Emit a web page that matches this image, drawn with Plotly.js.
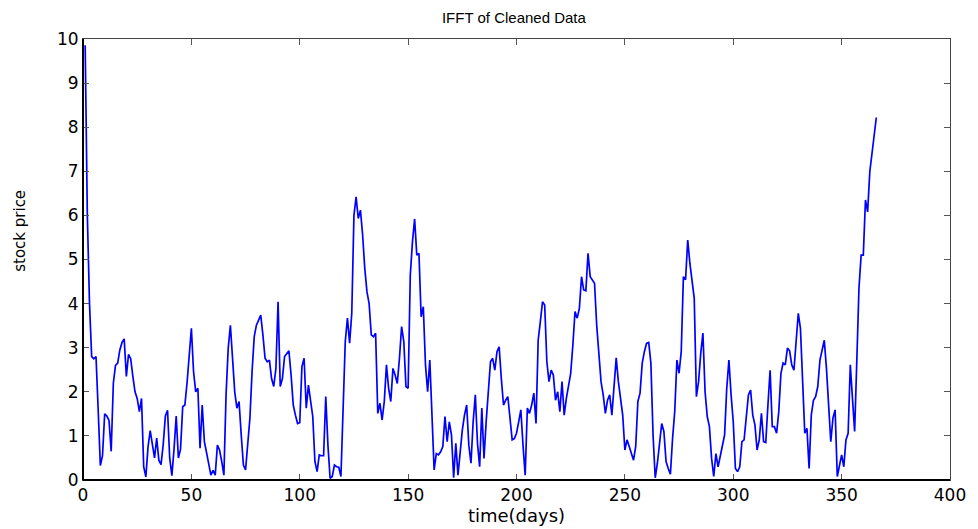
<!DOCTYPE html>
<html>
<head>
<meta charset="utf-8">
<script src="https://cdn.plot.ly/plotly-3.0.1.min.js"></script>
<style>
html,body{margin:0;padding:0;background:#fff;}
#chart{width:978px;height:529px;}
</style>
</head>
<body>
<div id="chart"></div>
<script>
// Stock price (IFFT of cleaned data), one value per day
const priceDays1to49 = [
  9.86, 6.0, 4.0, 2.8, 2.75, 2.8, 1.6, 0.33, 0.55, 1.5,
  1.45, 1.35, 0.65, 2.2, 2.6, 2.65, 2.95, 3.12, 3.2, 2.35,
  2.85, 2.75, 2.35, 2.0, 1.85, 1.55, 1.85, 0.3, 0.07, 0.75,
  1.12, 0.75, 0.5, 0.95, 0.45, 0.35, 0.8, 1.45, 1.58, 0.5,
  0.1, 0.7, 1.45, 0.5, 0.7, 1.66, 1.7, 2.2, 2.9
];
const priceDays50to99 = [
  3.44, 2.46, 2.0, 2.08, 0.72, 1.7, 0.87, 0.62, 0.34, 0.11,
  0.22, 0.11, 0.79, 0.68, 0.42, 0.11, 1.93, 2.99, 3.51, 2.83,
  2.0, 1.63, 1.78, 1.02, 0.34, 0.23, 0.79, 1.4, 2.46, 3.25,
  3.51, 3.63, 3.74, 3.29, 2.76, 2.68, 2.72, 2.3, 2.12, 2.53,
  4.04, 2.12, 2.3, 2.8, 2.87, 2.93, 2.38, 1.7, 1.47, 1.28
];
const priceDays100to148 = [
  1.3, 2.57, 2.76, 1.63, 2.15, 1.78, 1.44, 0.42, 0.19, 0.57,
  0.55, 0.55, 1.89, 0.79, 0.04, 0.08, 0.34, 0.3, 0.29, 0.08,
  1.78, 3.14, 3.67, 3.1, 3.78, 6.0, 6.42, 5.93, 6.12, 5.56,
  4.8, 4.27, 4.0, 3.29, 3.25, 3.33, 1.51, 1.74, 1.36, 1.78,
  2.61, 2.08, 1.78, 2.53, 2.38, 2.19, 2.76, 3.48, 3.14
];
const priceDays149to197 = [
  2.12, 2.08, 4.65, 5.4, 5.92, 5.1, 5.14, 3.7, 3.93, 2.61,
  2.0, 2.72, 1.4, 0.23, 0.6, 0.57, 0.64, 0.76, 1.44, 0.87,
  1.32, 1.02, 0.05, 0.83, 0.11, 0.64, 1.13, 1.47, 1.7, 0.79,
  0.38, 1.32, 1.93, 0.83, 0.3, 1.63, 0.49, 1.32, 1.97, 2.68,
  2.76, 2.49, 2.91, 3.02, 2.3, 1.7, 1.81, 1.89, 1.4
];
const priceDays198to247 = [
  0.91, 0.94, 1.06, 1.32, 1.59, 0.79, 0.11, 1.63, 1.51, 1.7,
  1.97, 1.28, 3.17, 3.59, 4.04, 3.97, 2.68, 2.23, 2.49, 2.38,
  1.81, 2.0, 1.55, 2.23, 1.47, 1.85, 2.15, 2.42, 3.06, 3.82,
  3.67, 3.89, 4.61, 4.31, 4.29, 5.14, 4.61, 4.52, 4.46, 3.51,
  2.91, 2.23, 1.93, 1.51, 1.81, 1.93, 1.47, 2.15, 2.77, 2.23
];
const priceDays248to296 = [
  1.85, 1.47, 0.68, 0.91, 0.76, 0.6, 0.45, 0.76, 1.78, 1.97,
  2.65, 2.91, 3.1, 3.12, 2.65, 1.02, 0.05, 0.38, 0.79, 1.28,
  1.1, 0.42, 0.26, 0.13, 0.94, 1.55, 2.72, 2.42, 2.91, 4.61,
  4.54, 5.44, 4.91, 4.57, 4.12, 1.89, 2.23, 2.87, 3.33, 2.0,
  1.44, 1.21, 0.49, 0.08, 0.6, 0.3, 0.57, 0.79, 1.02
];
const priceDays297to344 = [
  2.08, 2.72, 1.93, 1.32, 0.26, 0.19, 0.3, 0.87, 0.91, 1.47,
  1.93, 2.04, 1.47, 1.25, 0.68, 0.91, 1.51, 0.87, 0.85, 1.7,
  2.49, 1.21, 1.21, 1.06, 1.55, 2.42, 2.65, 2.61, 2.99, 2.93,
  2.61, 2.49, 3.14, 3.78, 3.44, 2.38, 1.06, 1.17, 0.26, 1.47,
  1.81, 1.89, 2.12, 2.72, 2.95, 3.17, 2.53, 1.55
];
const priceDays345to366 = [
  0.87, 1.4, 1.59, 0.08, 0.34, 0.57, 0.3, 0.91, 1.06, 2.61,
  1.85, 1.1, 2.7, 4.35, 5.1, 5.1, 6.35, 6.08, 6.99, 7.45,
  7.82, 8.22
];

const stockPrice = [].concat(
  priceDays1to49, priceDays50to99, priceDays100to148, priceDays149to197,
  priceDays198to247, priceDays248to296, priceDays297to344, priceDays345to366
);
const dayIndex = stockPrice.map((_, i) => i + 1);

const chartTitle = 'IFFT of Cleaned Data';
const xLabel = 'time(days)';
const yLabel = 'stock price';

const tickFont = {family: 'DejaVu Sans, sans-serif', size: 17, color: '#000'};

const trace = {
  x: dayIndex,
  y: stockPrice,
  type: 'scatter',
  mode: 'lines',
  line: {color: '#0000ff', width: 1.7},
  hoverinfo: 'x+y'
};

const layout = {
  width: 978,
  height: 529,
  margin: {l: 83, r: 28, t: 39, b: 49, pad: 0},
  paper_bgcolor: '#ffffff',
  plot_bgcolor: '#ffffff',
  showlegend: false,
  title: {
    text: chartTitle,
    font: {family: 'Liberation Sans, Arial, sans-serif', size: 15, color: '#000'},
    x: 0.497, xref: 'paper', xanchor: 'center',
    y: 0.966, yref: 'container', yanchor: 'middle'
  },
  xaxis: {
    range: [0, 400],
    tick0: 0, dtick: 50,
    ticks: 'inside', ticklen: 6, tickwidth: 1, tickcolor: '#555',
    showline: true, linecolor: '#444', linewidth: 1, mirror: 'ticks',
    showgrid: false, zeroline: false,
    tickfont: tickFont,
    title: {text: xLabel, font: {family: 'DejaVu Sans, sans-serif', size: 18, color: '#000'}, standoff: 2}
  },
  yaxis: {
    range: [0, 10],
    tick0: 0, dtick: 1,
    ticks: 'inside', ticklen: 6, tickwidth: 1, tickcolor: '#555',
    showline: true, linecolor: '#444', linewidth: 1, mirror: 'ticks',
    showgrid: false, zeroline: false,
    tickfont: tickFont
  },
  shapes: [
    {type: 'line', xref: 'paper', yref: 'paper', x0: 0, x1: 0, y0: 0, y1: 1, line: {color: '#000', width: 2}},
    {type: 'line', xref: 'paper', yref: 'paper', x0: 0, x1: 1, y0: 0, y1: 0, line: {color: '#000', width: 2}}
  ],
  annotations: [
    {
      text: yLabel, textangle: -90, showarrow: false,
      xref: 'paper', yref: 'paper', x: -0.0727, y: 0.565,
      xanchor: 'center', yanchor: 'middle',
      font: {family: 'DejaVu Sans, sans-serif', size: 15, color: '#000'}
    }
  ]
};

Plotly.newPlot('chart', [trace], layout, {displayModeBar: false, staticPlot: false});
</script>
</body>
</html>
